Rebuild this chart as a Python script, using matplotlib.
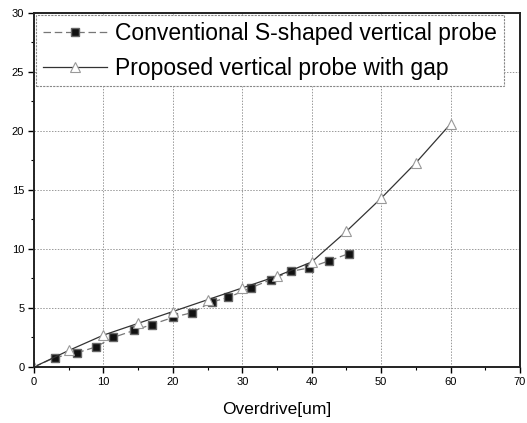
import matplotlib
matplotlib.use("Agg")
import matplotlib.pyplot as plt
from matplotlib.ticker import MultipleLocator

plt.rcParams['font.family'] = ['Liberation Sans', 'DejaVu Sans']

conv_x = [3, 6.2, 8.9, 11.4, 14.4, 17, 20, 22.7, 25.6, 28, 31.2, 34.1, 37, 39.6, 42.5, 45.3]
conv_y = [0.8, 1.2, 1.7, 2.5, 3.1, 3.6, 4.2, 4.6, 5.5, 5.9, 6.7, 7.4, 8.1, 8.4, 9.0, 9.6]
prop_x = [0, 5, 10, 15, 20, 25, 30, 35, 40, 45, 50, 55, 60]
prop_y = [0, 1.4, 2.7, 3.7, 4.7, 5.7, 6.7, 7.7, 8.9, 11.5, 14.3, 17.3, 20.6]
labels = ["Conventional S-shaped vertical probe", "Proposed vertical probe with gap"]
xlabel = "Overdrive[um]"

fig = plt.figure(figsize=(5.27, 4.23), dpi=100)
ax = fig.add_axes([0.0645, 0.1324, 0.9222, 0.8369])

ax.plot([0] + conv_x, [0] + conv_y, linestyle=(0, (6, 3)), color='#777777', linewidth=0.9,
        marker='s', markersize=5.5, markerfacecolor='#111111', markeredgecolor='#666666',
        markevery=list(range(1, len(conv_x) + 1)), label=labels[0])
ax.plot(prop_x, prop_y, linestyle='-', color='#333333', linewidth=0.9,
        marker='^', markersize=7.5, markerfacecolor='white', markeredgecolor='#999999',
        markeredgewidth=0.8, label=labels[1])

ax.set_xlim(0, 70)
ax.set_ylim(0, 30)
ax.xaxis.set_major_locator(MultipleLocator(10))
ax.xaxis.set_minor_locator(MultipleLocator(5))
ax.yaxis.set_major_locator(MultipleLocator(5))
ax.yaxis.set_minor_locator(MultipleLocator(2.5))
ax.tick_params(which='major', direction='out', length=4, width=1, labelsize=8, pad=3)
ax.tick_params(which='minor', direction='out', length=2, width=0.8)
ax.grid(True, which='major', color='#999999', linestyle=(0, (1.5, 1.5)), linewidth=0.7)
for s in ax.spines.values():
    s.set_linewidth(1.4)
    s.set_color('#222222')

ax.set_xlabel(xlabel, fontsize=12.5, labelpad=11)

leg = ax.legend(loc='upper left', fontsize=16.5, handlelength=2.8, handletextpad=0.35,
                borderpad=0.3, labelspacing=0.5, frameon=True, fancybox=False,
                borderaxespad=0.1, framealpha=1)
leg.get_frame().set_edgecolor('#888888')
leg.get_frame().set_linestyle((0, (2, 1)))
leg.get_frame().set_linewidth(0.8)

fig.savefig("out.png", dpi=100)
